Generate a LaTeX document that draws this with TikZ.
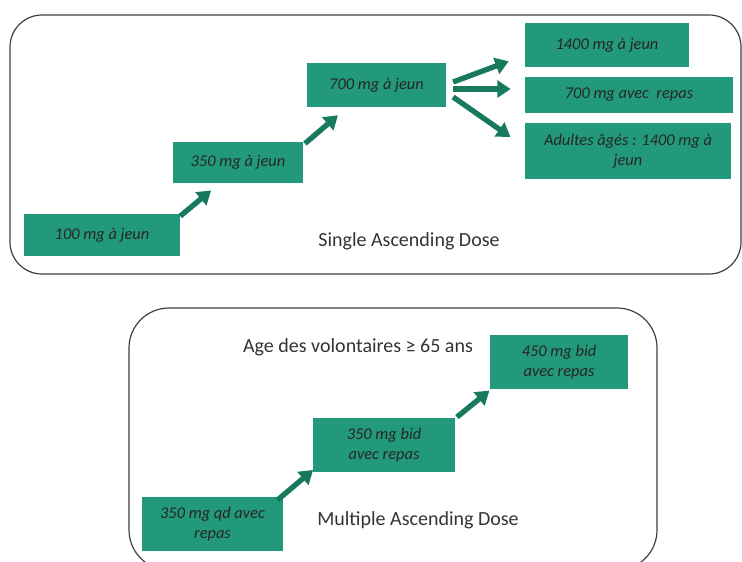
\documentclass[tikz,border=0pt]{standalone}
\usepackage{fontspec}
\setmainfont{Carlito}
\usetikzlibrary{arrows.meta,positioning}
\definecolor{dosegreen}{HTML}{22997A}
\definecolor{arrowgreen}{HTML}{177A5E}

\begin{document}
\begin{tikzpicture}[x=0.75pt, y=-0.75pt,
  dose/.style={fill=dosegreen, align=center, inner sep=2pt, text=black!85,
    font=\itshape\fontsize{12.3}{15}\selectfont},
  uparrow/.style={draw=arrowgreen, line width=4pt, -{Triangle[length=10pt,width=12.5pt]}},
  frame/.style={draw=black!75, line width=0.9pt, rounded corners=24pt},
  caption/.style={font=\fontsize{15}{18}\selectfont, text=black!80}]

\useasboundingbox (0,0) rectangle (742,561);
\clip (0,0) rectangle (742,561);

% Single Ascending Dose
\draw[frame] (10,15) rectangle (741,274);

\node[dose, minimum width=117pt, minimum height=31pt] (sad100) at (102,235) {100 mg à jeun};
\node[dose, minimum width=97pt, minimum height=31pt] (sad350) at (238,162.5) {350 mg à jeun};
\node[dose, minimum width=104pt, minimum height=33pt] (sad700) at (376.5,85) {700 mg à jeun};
\node[dose, minimum width=123pt, minimum height=33pt] (jeun1400) at (607,45) {1400 mg à jeun};
\node[dose, minimum width=156pt, minimum height=27pt] (repas700) at (629,95) {700 mg avec \ repas};
\node[dose, minimum width=155pt, minimum height=42pt] (ages1400) at (628,151) {Adultes âgés : 1400 mg à\\jeun};

\node[caption] (sadlabel) at (409,241) {Single Ascending Dose};

\draw[uparrow] ([shift={(0,2)}]sad100.north east) -- ([shift={(38,7)}]sad350.south west);
\draw[uparrow] ([shift={(2,2)}]sad350.north east) -- ([shift={(31,8)}]sad700.south west);

% eventail depuis 700 mg
\draw[uparrow] ([shift={(7,-3)}]sad700.east) -- ([shift={(-16,-6)}]jeun1400.south west);
\draw[uparrow] ([shift={(7,4)}]sad700.east) -- ([shift={(-14,-6)}]repas700.west);
\draw[uparrow] ([shift={(7,12)}]sad700.east) -- ([shift={(-14,-14)}]ages1400.west);

% Multiple Ascending Dose
\draw[frame, rounded corners=30pt] (129,308) rectangle (657,570);

\node[dose, minimum width=106pt, minimum height=40pt] (mad350qd) at (212.5,524) {350 mg qd avec\\repas};
\node[dose, minimum width=106pt, minimum height=40pt] (mad350bid) at (384,445) {350 mg bid\\avec repas};
\node[dose, minimum width=104pt, minimum height=41pt] (mad450bid) at (559,362) {450 mg bid\\avec repas};

\node[caption] (agelabel) at (358,347) {Age des volontaires ≥ 65 ans};
\node[caption] (madlabel) at (418,520) {Multiple Ascending Dose};

\draw[uparrow] ([shift={(-6,3)}]mad350qd.north east) -- ([shift={(0,-2)}]mad350bid.south west);
\draw[uparrow] ([shift={(2,-1)}]mad350bid.north east) -- ([shift={(0,1)}]mad450bid.south west);

\end{tikzpicture}
\end{document}
